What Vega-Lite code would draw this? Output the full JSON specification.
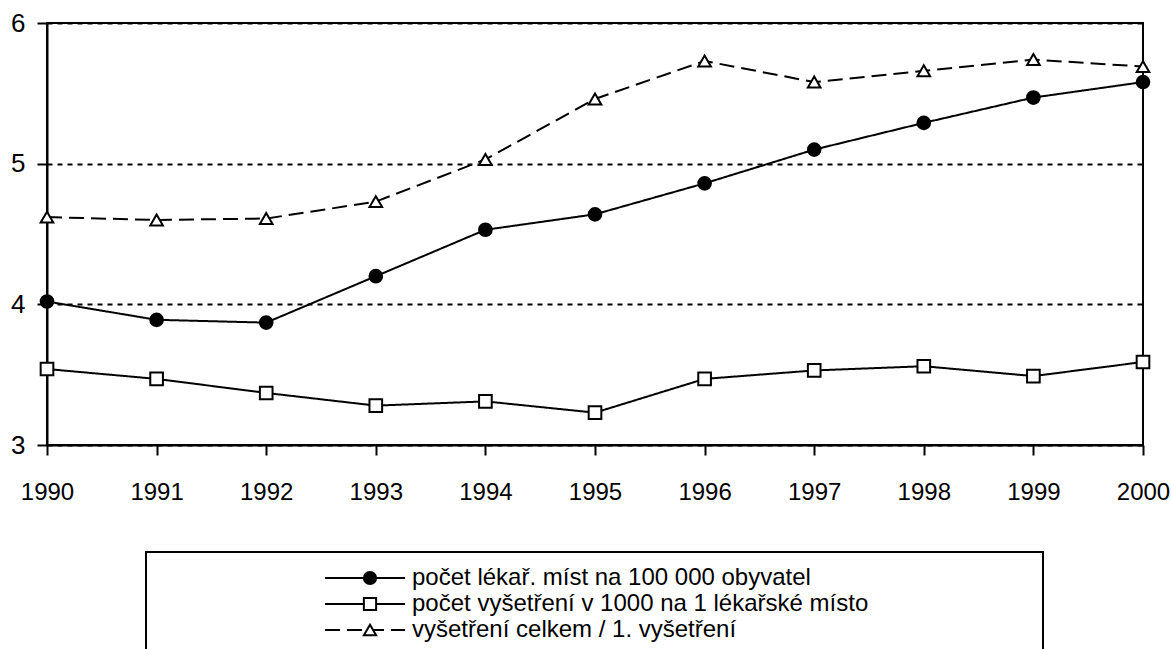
{
  "$schema": "https://vega.github.io/schema/vega-lite/v6.json",
  "width": 1096,
  "height": 422,
  "autosize": {"type": "none"},
  "padding": {"left": 47, "top": 23, "right": 28, "bottom": 204},
  "background": "white",
  "config": {
    "font": "Liberation Sans",
    "view": {"stroke": "black", "strokeWidth": 2},
    "axis": {"labelColor": "black", "domainColor": "black", "domainWidth": 2, "tickColor": "black", "tickWidth": 2, "tickSize": 10, "labelFont": "Liberation Sans"},
    "legend": {"labelFont": "Liberation Sans", "strokeWidth": 2}
  },
  "data": {
    "values": [
      {"year": 1990, "series": "počet lékař. míst na 100 000 obyvatel", "value": 4.02},
      {"year": 1991, "series": "počet lékař. míst na 100 000 obyvatel", "value": 3.89},
      {"year": 1992, "series": "počet lékař. míst na 100 000 obyvatel", "value": 3.87},
      {"year": 1993, "series": "počet lékař. míst na 100 000 obyvatel", "value": 4.20},
      {"year": 1994, "series": "počet lékař. míst na 100 000 obyvatel", "value": 4.53},
      {"year": 1995, "series": "počet lékař. míst na 100 000 obyvatel", "value": 4.64},
      {"year": 1996, "series": "počet lékař. míst na 100 000 obyvatel", "value": 4.86},
      {"year": 1997, "series": "počet lékař. míst na 100 000 obyvatel", "value": 5.10},
      {"year": 1998, "series": "počet lékař. míst na 100 000 obyvatel", "value": 5.29},
      {"year": 1999, "series": "počet lékař. míst na 100 000 obyvatel", "value": 5.47},
      {"year": 2000, "series": "počet lékař. míst na 100 000 obyvatel", "value": 5.58},
      {"year": 1990, "series": "počet vyšetření v 1000 na 1 lékařské místo", "value": 3.54},
      {"year": 1991, "series": "počet vyšetření v 1000 na 1 lékařské místo", "value": 3.47},
      {"year": 1992, "series": "počet vyšetření v 1000 na 1 lékařské místo", "value": 3.37},
      {"year": 1993, "series": "počet vyšetření v 1000 na 1 lékařské místo", "value": 3.28},
      {"year": 1994, "series": "počet vyšetření v 1000 na 1 lékařské místo", "value": 3.31},
      {"year": 1995, "series": "počet vyšetření v 1000 na 1 lékařské místo", "value": 3.23},
      {"year": 1996, "series": "počet vyšetření v 1000 na 1 lékařské místo", "value": 3.47},
      {"year": 1997, "series": "počet vyšetření v 1000 na 1 lékařské místo", "value": 3.53},
      {"year": 1998, "series": "počet vyšetření v 1000 na 1 lékařské místo", "value": 3.56},
      {"year": 1999, "series": "počet vyšetření v 1000 na 1 lékařské místo", "value": 3.49},
      {"year": 2000, "series": "počet vyšetření v 1000 na 1 lékařské místo", "value": 3.59},
      {"year": 1990, "series": "vyšetření celkem  / 1. vyšetření", "value": 4.62},
      {"year": 1991, "series": "vyšetření celkem  / 1. vyšetření", "value": 4.60},
      {"year": 1992, "series": "vyšetření celkem  / 1. vyšetření", "value": 4.61},
      {"year": 1993, "series": "vyšetření celkem  / 1. vyšetření", "value": 4.73},
      {"year": 1994, "series": "vyšetření celkem  / 1. vyšetření", "value": 5.03},
      {"year": 1995, "series": "vyšetření celkem  / 1. vyšetření", "value": 5.46},
      {"year": 1996, "series": "vyšetření celkem  / 1. vyšetření", "value": 5.73},
      {"year": 1997, "series": "vyšetření celkem  / 1. vyšetření", "value": 5.58},
      {"year": 1998, "series": "vyšetření celkem  / 1. vyšetření", "value": 5.66},
      {"year": 1999, "series": "vyšetření celkem  / 1. vyšetření", "value": 5.74},
      {"year": 2000, "series": "vyšetření celkem  / 1. vyšetření", "value": 5.69}
    ]
  },
  "encoding": {
    "x": {
      "field": "year", "type": "quantitative",
      "scale": {"domain": [1990, 2000], "nice": false, "zero": false},
      "axis": {"values": [1990, 1991, 1992, 1993, 1994, 1995, 1996, 1997, 1998, 1999, 2000], "format": "d", "title": null, "grid": false, "labelFontSize": 24, "labelPadding": 25, "labelFlush": false, "labelOverlap": false}
    },
    "y": {
      "field": "value", "type": "quantitative",
      "scale": {"domain": [3, 6], "nice": false, "zero": false},
      "axis": {"values": [3, 4, 5, 6], "title": null, "grid": true, "gridColor": "black", "gridWidth": 2, "gridDash": [5, 5], "gridOpacity": 1, "labelFontSize": 26, "labelPadding": 12, "labelFlush": false}
    }
  },
  "layer": [
    {
      "mark": {"type": "line", "color": "black", "strokeWidth": 2},
      "encoding": {
        "strokeDash": {
          "field": "series", "type": "nominal",
          "scale": {"domain": ["počet lékař. míst na 100 000 obyvatel", "počet vyšetření v 1000 na 1 lékařské místo", "vyšetření celkem  / 1. vyšetření"], "range": [[1, 0], [1, 0], [15, 7]]},
          "legend": {
            "title": null, "orient": "none", "legendX": 99, "legendY": 529,
            "strokeColor": "black", "fillColor": "white", "padding": 14,
            "symbolType": "stroke", "symbolSize": 6400, "symbolStrokeWidth": 2, "symbolStrokeColor": "black",
            "symbolOffset": 164, "clipHeight": 24, "rowPadding": 2,
            "labelFontSize": 24, "labelColor": "black", "labelOffset": 6, "labelLimit": 0,
            "labelExpr": "datum.label + '\u00a0\u00a0\u00a0\u00a0\u00a0\u00a0\u00a0\u00a0\u00a0\u00a0\u00a0\u00a0\u00a0\u00a0\u00a0\u00a0\u00a0\u00a0\u00a0\u00a0\u00a0\u00a0\u00a0\u00a0\u200b'"
          }
        }
      }
    },
    {
      "mark": {"type": "point", "stroke": "black", "strokeWidth": 2, "size": 160, "opacity": 1},
      "encoding": {
        "shape": {
          "field": "series", "type": "nominal",
          "scale": {"range": ["circle", "square", "triangle-up"]},
          "legend": {
            "title": null, "orient": "none", "legendX": 99, "legendY": 529,
            "padding": 14, "symbolOffset": 198, "clipHeight": 24, "rowPadding": 2,
            "symbolSize": 150, "symbolStrokeWidth": 2,
            "labelExpr": "''", "labelFontSize": 24
          }
        },
        "fill": {
          "field": "series", "type": "nominal",
          "scale": {"range": ["black", "white", "white"]},
          "legend": {
            "title": null, "orient": "none", "legendX": 99, "legendY": 529,
            "padding": 14, "symbolOffset": 198, "clipHeight": 24, "rowPadding": 2,
            "symbolSize": 150, "symbolStrokeWidth": 2,
            "labelExpr": "''", "labelFontSize": 24
          }
        }
      }
    }
  ]
}
